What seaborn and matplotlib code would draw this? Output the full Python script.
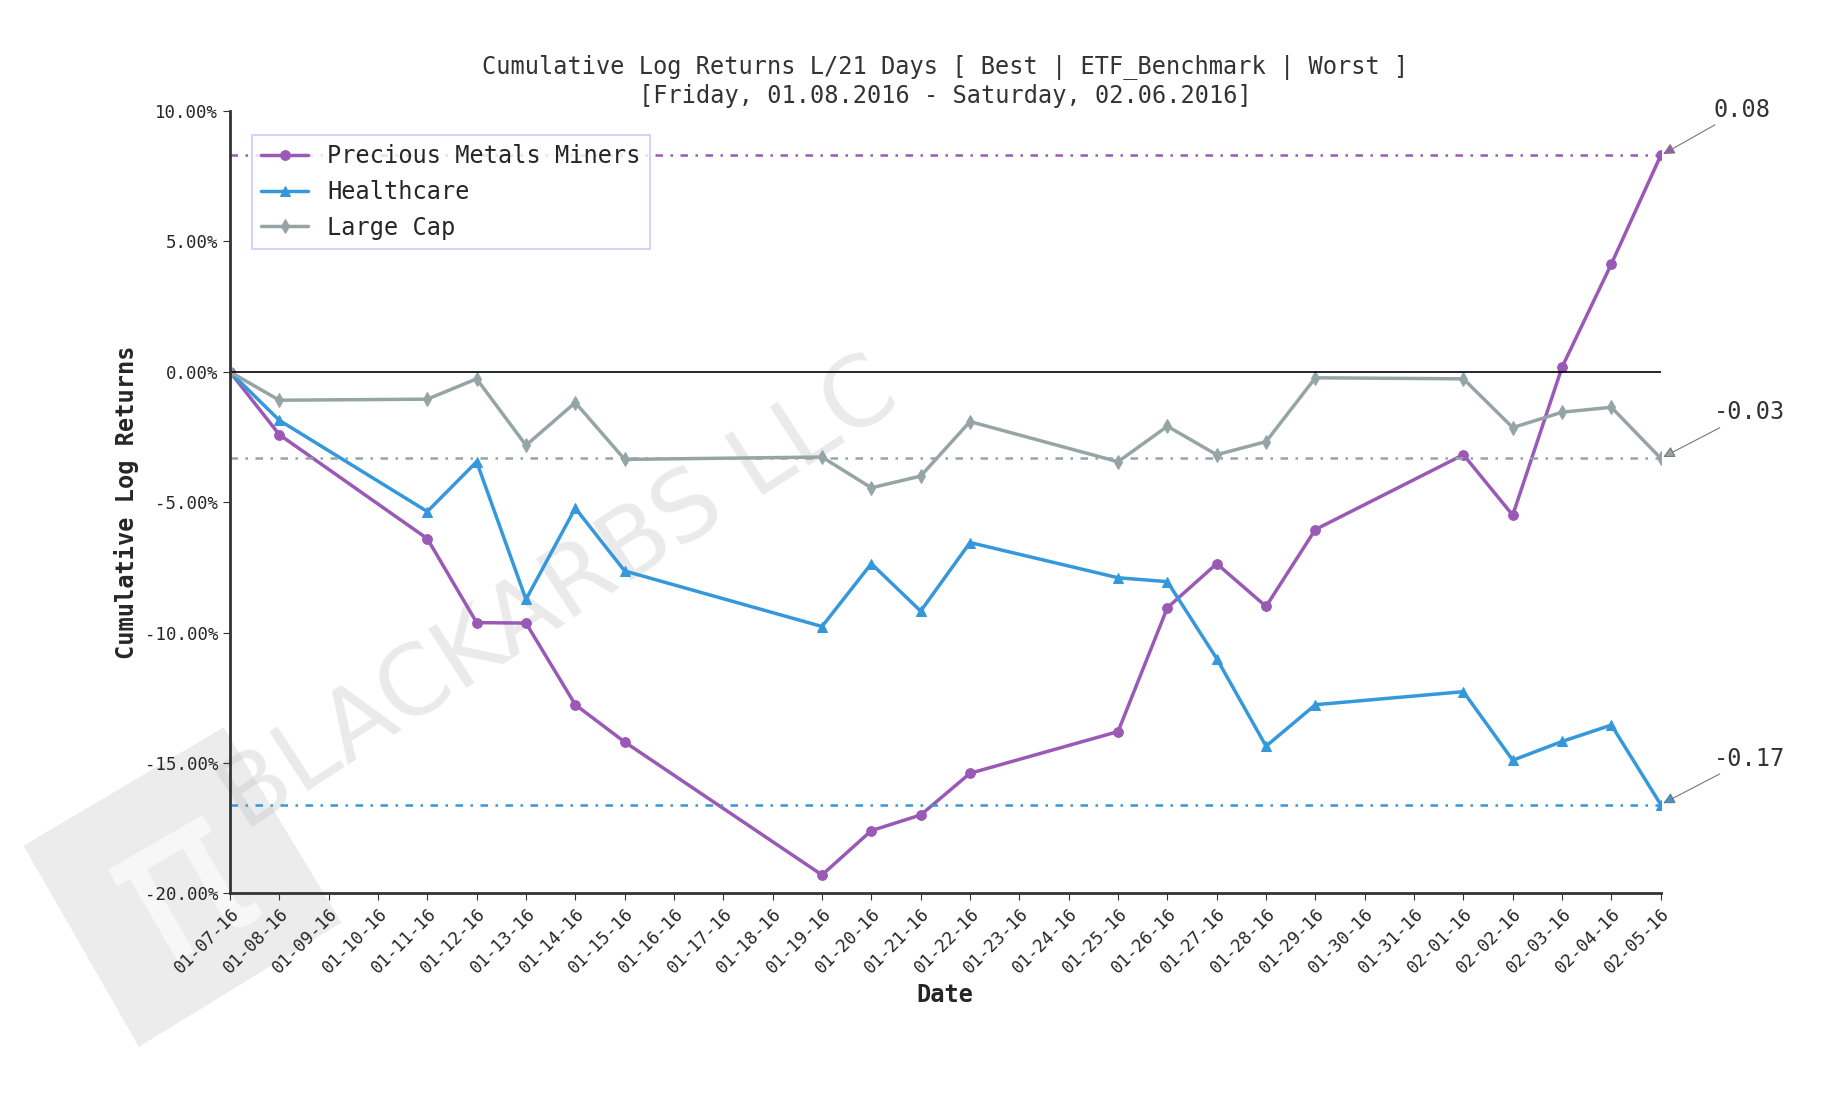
import numpy as np
import pandas as pd
import matplotlib
matplotlib.use("Agg")
import matplotlib.pyplot as plt
import matplotlib.dates as mdates
import matplotlib.patches as mpatches
import seaborn as sns

dates = ["2016-01-07","2016-01-08","2016-01-11","2016-01-12","2016-01-13","2016-01-14","2016-01-15",
         "2016-01-19","2016-01-20","2016-01-21","2016-01-22","2016-01-25","2016-01-26","2016-01-27",
         "2016-01-28","2016-01-29","2016-02-01","2016-02-02","2016-02-03","2016-02-04","2016-02-05"]
metals = [0.0,-2.41,-6.40,-9.62,-9.64,-12.77,-14.20,-19.30,-17.60,-17.00,-15.40,-13.80,-9.05,-7.36,
          -9.00,-6.05,-3.18,-5.50,0.18,4.14,8.30]
health = [0.0,-1.86,-5.36,-3.45,-8.73,-5.23,-7.64,-9.77,-7.36,-9.18,-6.55,-7.90,-8.05,-11.00,
          -14.36,-12.77,-12.27,-14.90,-14.18,-13.55,-16.60]
largecap = [0.0,-1.09,-1.05,-0.27,-2.82,-1.18,-3.36,-3.27,-4.45,-4.00,-1.91,-3.45,-2.09,-3.18,
            -2.68,-0.23,-0.27,-2.14,-1.55,-1.36,-3.32]
names = ["Precious Metals Miners", "Healthcare", "Large Cap"]
colors = ["#9b59b6", "#3498db", "#95a5a6"]
markers = ["o", "^", "d"]

sns.set_style("white")
plt.rcParams['font.family'] = ['DejaVu Sans Mono', 'DejaVu Sans']

d = pd.to_datetime(dates)
df = pd.DataFrame({"Date": np.tile(d, 3),
                   "ret": np.concatenate([metals, health, largecap]) / 100.0,
                   "series": np.repeat(names, len(d))})

fig = plt.figure(figsize=(18.25, 11), dpi=100)

# watermark square (behind everything)
W, H = 1550.0, 930.0
corners = [(20, 715), (190, 615), (290, 780), (118, 885)]
poly = mpatches.Polygon([(x / W, 1 - y / H) for x, y in corners], closed=True,
                        transform=fig.transFigure, facecolor="#ececec", edgecolor="none",
                        zorder=-5)
fig.patches.append(poly)
fig.text(155 / W, 1 - 750 / H, "π", fontsize=150, color="#f8f8f8", rotation=30,
         ha="center", va="center", family="DejaVu Sans", zorder=-4)

ax = fig.add_axes([0.126, 0.188, 0.784, 0.711])
ax.set_facecolor("none")
ax.set_zorder(2)

for nm, c, m in zip(names, colors, markers):
    sub = df[df.series == nm]
    sns.lineplot(data=sub, x="Date", y="ret", ax=ax, color=c, marker=m, markersize=7,
                 markeredgecolor=c, linewidth=2.5, label=nm)
    last = sub.ret.iloc[-1]
    ax.axhline(last, color=c, linestyle=(0, (3, 3, 1, 3)), linewidth=1.8)

ax.plot([d[0], d[-1]], [0, 0], color="black", linewidth=1.2)

ax.set_xlim(d[0], d[-1])
ax.set_ylim(-0.20, 0.10)
ax.set_yticks(np.arange(-0.20, 0.101, 0.05))
ax.yaxis.set_major_formatter(matplotlib.ticker.FuncFormatter(
    lambda v, p: f"{(0.0 if abs(v) < 1e-9 else v)*100:.2f}%"))
ax.xaxis.set_major_locator(mdates.DayLocator())
ax.xaxis.set_major_formatter(mdates.DateFormatter("%m-%d-%y"))
plt.setp(ax.get_xticklabels(), rotation=45, ha="right", rotation_mode="anchor", fontsize=12.5)
plt.setp(ax.get_yticklabels(), fontsize=12.5)
ax.tick_params(axis="both", length=5, color="#333333", bottom=True, left=True)
for s in ["top", "right"]:
    ax.spines[s].set_visible(False)
for s in ["left", "bottom"]:
    ax.spines[s].set_color("#333333")
    ax.spines[s].set_linewidth(2)

ax.set_xlabel("Date", fontsize=17, fontweight="bold")
ax.set_ylabel("Cumulative Log Returns", fontsize=17, fontweight="bold")
ax.set_title("Cumulative Log Returns L/21 Days [ Best | ETF_Benchmark | Worst ]\n"
             "[Friday, 01.08.2016 - Saturday, 02.06.2016]", fontsize=17, color="#333333")

leg = ax.legend(loc="upper left", fontsize=17, frameon=True, fancybox=False,
                bbox_to_anchor=(0.007, 0.985))
leg.get_frame().set_edgecolor("#c8c8ff")
leg.get_frame().set_linewidth(1.5)

for vals, c in zip([metals, largecap, health], [colors[0], colors[2], colors[1]]):
    v = vals[-1] / 100.0
    ax.annotate(f"{v:.2f}", xy=(d[-1], v), xytext=(38, 28), textcoords="offset points",
                fontsize=17, color="#333333", annotation_clip=False,
                arrowprops=dict(arrowstyle="-|>", color="#777777", lw=0.8,
                                fc=c, shrinkA=0, shrinkB=2))

ax.text(0.23, 0.38, "BLACKARBS LLC", transform=ax.transAxes, fontsize=70, color="#bbbbbb",
        alpha=0.3, rotation=33, ha="center", va="center", family="DejaVu Sans", zorder=0.5)

fig.savefig("out.png", dpi=100)
